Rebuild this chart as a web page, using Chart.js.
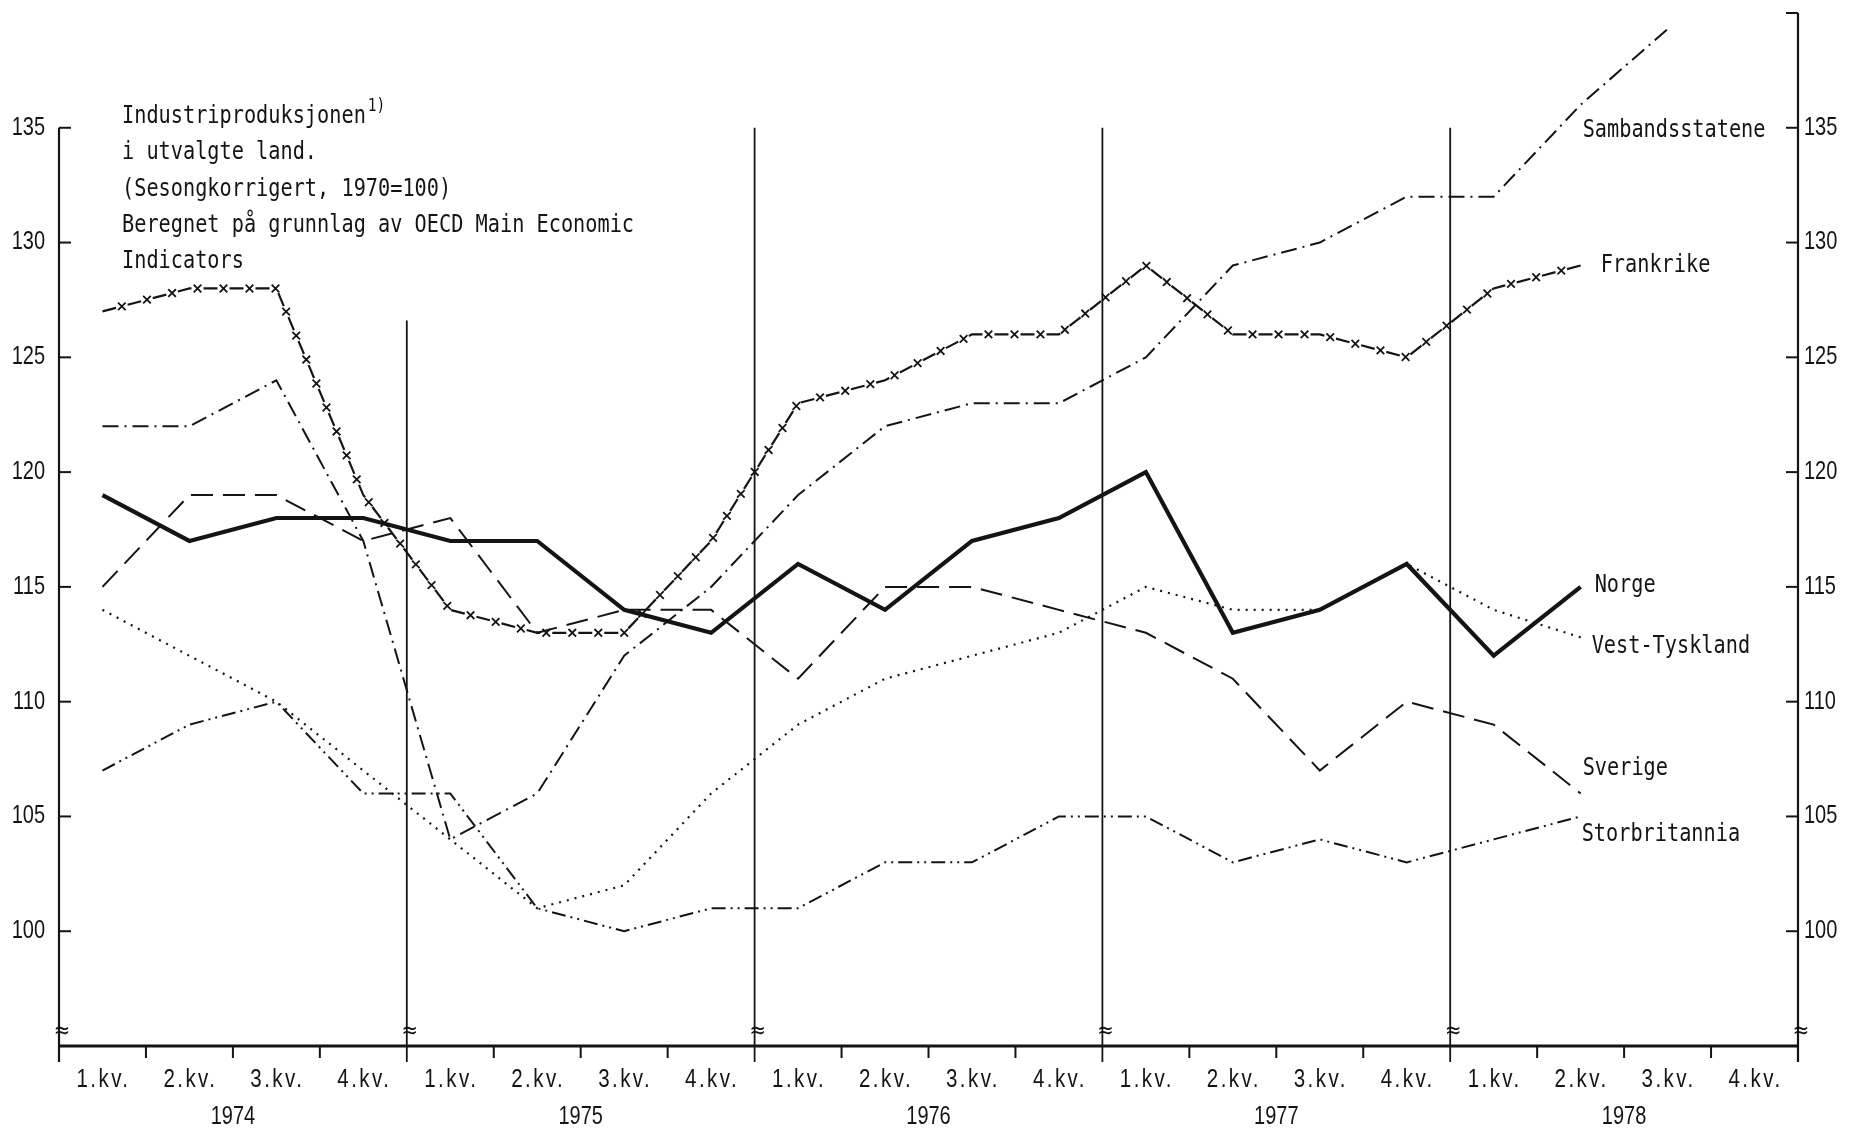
<!DOCTYPE html>
<html>
<head>
<meta charset="utf-8">
<script src="https://cdn.jsdelivr.net/npm/chart.js@4/dist/chart.umd.min.js"></script>
<style>
  html, body { margin: 0; padding: 0; background: #fff; }
  #wrap { width: 1851px; height: 1131px; }
</style>
</head>
<body>
<div id="wrap"><canvas id="chart" width="1851" height="1131"></canvas></div>
<script>
// kvartaler og år
const years = ['1974', '1975', '1976', '1977', '1978'];
const quarters = ['1.kv.', '2.kv.', '3.kv.', '4.kv.'];

// indeks, 1970=100
const norge          = [119, 117, 118, 118, 117, 117, 114, 113, 116, 114, 117, 118, 120, 113, 114, 116, 112, 115, null, null];
const sambandsstatene= [122, 122, 124, 117, 104, 106, 112, 115, 119, 122, 123, 123, 125, 129, 130, 132, 132, 136, 139.3, null];
const frankrike      = [127, 128, 128, 119, 114, 113, 113, 117, 123, 124, 126, 126, 129, 126, 126, 125, 128, 129, null, null];
const vestTyskland   = [114, 112, 110, 107, 104, 101, 102, 106, 109, 111, 112, 113, 115, 114, 114, 116, 114, 112.8, null, null];
const sverige        = [115, 119, 119, 117, 118, 113, 114, 114, 111, 115, 115, 114, 113, 111, 107, 110, 109, 106, null, null];
const storbritannia  = [107, 109, 110, 106, 106, 101, 100, 101, 101, 103, 103, 105, 105, 103, 104, 103, 104, 105, null, null];

const yTicksLeft  = [100, 105, 110, 115, 120, 125, 130, 135];
const yTicksRight = [100, 105, 110, 115, 120, 125, 130, 135, 140];

const titleLines = [
  'Industriproduksjonen',
  'i utvalgte land.',
  '(Sesongkorrigert, 1970=100)',
  'Beregnet på grunnlag av OECD Main Economic',
  'Indicators'
];

const categories = [];
years.forEach(y => quarters.forEach(q => categories.push(q + ' ' + y)));

const INK = '#141414';
const NUM_FONT = "'Liberation Sans', Arial, sans-serif";
const MONO_FONT = "'DejaVu Sans Mono', 'Liberation Mono', monospace";

// tegner tekst sammenpresset horisontalt, returnerer bredden
function squeezed(ctx, text, x, y, font, squeeze, align, spacing) {
  ctx.save();
  ctx.font = font;
  ctx.letterSpacing = (spacing || 0) + 'px';
  const w = ctx.measureText(text).width * squeeze;
  let x0 = x;
  if (align === 'right') x0 = x - w;
  else if (align === 'center') x0 = x - w / 2;
  ctx.textAlign = 'left';
  ctx.translate(x0, y);
  ctx.scale(squeeze, 1);
  ctx.fillText(text, 0, 0);
  ctx.restore();
  return w;
}

const decor = {
  id: 'decor',
  afterDatasetsDraw(chart) {
    const ctx = chart.ctx;
    const xs = chart.scales.x, ys = chart.scales.y;
    const area = chart.chartArea;
    const bottom = area.bottom, left = area.left, right = area.right;
    const n = categories.length;
    const boundary = i => i === 0 ? left : (i === n ? right : (xs.getPixelForValue(i - 1) + xs.getPixelForValue(i)) / 2);

    ctx.save();
    ctx.strokeStyle = INK;
    ctx.fillStyle = INK;
    ctx.lineCap = 'butt';

    // venstre og høyre akse
    ctx.lineWidth = 2.2;
    ctx.beginPath();
    ctx.moveTo(left, ys.getPixelForValue(135));
    ctx.lineTo(left, bottom + 16);
    ctx.moveTo(right, ys.getPixelForValue(140));
    ctx.lineTo(right, bottom + 16);
    ctx.stroke();

    // årsskillelinjer
    const yearTops = [126.6, 135, 135, 135];
    ctx.lineWidth = 1.8;
    yearTops.forEach((top, k) => {
      const bx = boundary((k + 1) * 4);
      ctx.beginPath();
      ctx.moveTo(bx, ys.getPixelForValue(top));
      ctx.lineTo(bx, bottom + 16);
      ctx.stroke();
    });

    // grunnlinje
    ctx.lineWidth = 2.8;
    ctx.beginPath();
    ctx.moveTo(left, bottom);
    ctx.lineTo(right, bottom);
    ctx.stroke();

    // kvartalsmerker
    ctx.lineWidth = 2;
    for (let i = 1; i < n; i++) {
      if (i % 4 === 0) continue;
      const bx = boundary(i);
      ctx.beginPath();
      ctx.moveTo(bx, bottom);
      ctx.lineTo(bx, bottom + 12);
      ctx.stroke();
    }

    // y-merker
    ctx.lineWidth = 2;
    yTicksLeft.forEach(v => {
      const py = ys.getPixelForValue(v);
      ctx.beginPath(); ctx.moveTo(left, py); ctx.lineTo(left + 12, py); ctx.stroke();
    });
    yTicksRight.forEach(v => {
      const py = ys.getPixelForValue(v);
      ctx.beginPath(); ctx.moveTo(right, py); ctx.lineTo(right - 12, py); ctx.stroke();
    });

    // bruddtegn
    ctx.font = '24px ' + MONO_FONT;
    ctx.textAlign = 'center';
    ctx.textBaseline = 'middle';
    for (let i = 0; i <= n; i += 4) {
      ctx.fillText('≈', boundary(i) + 3, bottom - 14);
    }

    // tall på y-aksene
    ctx.textBaseline = 'middle';
    const numFont = '25px ' + NUM_FONT;
    yTicksLeft.forEach(v => squeezed(ctx, String(v), left - 14, ys.getPixelForValue(v), numFont, 0.8, 'right'));
    yTicksRight.forEach(v => { if (v <= 135) squeezed(ctx, String(v), right + 6, ys.getPixelForValue(v), numFont, 0.8, 'left'); });

    // kvartal- og årstekster
    categories.forEach((c, i) => {
      squeezed(ctx, quarters[i % 4], xs.getPixelForValue(i) + 1, bottom + 34, numFont, 0.82, 'center', 3);
    });
    years.forEach((y, k) => {
      squeezed(ctx, y, (boundary(k * 4) + boundary(k * 4 + 4)) / 2, bottom + 71, numFont, 0.8, 'center');
    });

    // overskrift
    const tx = 122;
    const ty0 = ys.getPixelForValue(135.5);
    const lineGap = 36.4;
    const monoFont = '25px ' + MONO_FONT;
    titleLines.forEach((t, k) => {
      const w = squeezed(ctx, t, tx, ty0 + k * lineGap, monoFont, 0.81, 'left');
      if (k === 0) squeezed(ctx, '1)', tx + w + 2, ty0 - 10, '18px ' + MONO_FONT, 0.81, 'left');
    });

    // serienavn
    const lastIdx = 17;
    const seriesLabels = [
      ['Sambandsstatene', 134.9, 2],
      ['Frankrike', 129.0, 20],
      ['Norge', 115.05, 14],
      ['Vest-Tyskland', 112.4, 11],
      ['Sverige', 107.1, 2],
      ['Storbritannia', 104.2, 1]
    ];
    seriesLabels.forEach(([name, v, dx]) => {
      squeezed(ctx, name, xs.getPixelForValue(lastIdx) + dx, ys.getPixelForValue(v), monoFont, 0.81, 'left');
    });

    // kryss langs Frankrike-linjen
    const meta = chart.getDatasetMeta(2);
    const pts = meta.data.filter((p, i) => frankrike[i] !== null);
    const period = 26, start = 20, s = 3.8;
    let acc = 0, next = start;
    ctx.lineWidth = 1.8;
    for (let i = 1; i < pts.length; i++) {
      const ax = pts[i - 1].x, ay = pts[i - 1].y, bx = pts[i].x, by = pts[i].y;
      const len = Math.hypot(bx - ax, by - ay);
      while (next <= acc + len) {
        const t = (next - acc) / len;
        const cx = ax + (bx - ax) * t, cy = ay + (by - ay) * t;
        ctx.beginPath();
        ctx.moveTo(cx - s, cy - s); ctx.lineTo(cx + s, cy + s);
        ctx.moveTo(cx - s, cy + s); ctx.lineTo(cx + s, cy - s);
        ctx.stroke();
        next += period;
      }
      acc += len;
    }
    ctx.restore();
  }
};

function serie(label, data, width, dash) {
  return {
    label: label,
    data: data,
    borderColor: INK,
    borderWidth: width,
    borderDash: dash,
    pointRadius: 0,
    tension: 0,
    fill: false,
    spanGaps: false,
    clip: false
  };
}

new Chart(document.getElementById('chart').getContext('2d'), {
  type: 'line',
  data: {
    labels: categories,
    datasets: [
      serie('Norge', norge, 4.2, []),
      serie('Sambandsstatene', sambandsstatene, 2, [16, 6, 2, 6]),
      serie('Frankrike', frankrike, 2.2, [14, 12]),
      serie('Vest-Tyskland', vestTyskland, 2.2, [2, 6]),
      serie('Sverige', sverige, 2, [22, 10]),
      serie('Storbritannia', storbritannia, 2, [14, 5, 2, 5, 2, 5])
    ]
  },
  options: {
    responsive: false,
    devicePixelRatio: 1,
    animation: false,
    layout: { padding: { left: 59, right: 53, top: 13, bottom: 85 } },
    plugins: { legend: { display: false }, tooltip: { enabled: false } },
    scales: {
      x: { type: 'category', offset: true, display: false },
      y: { min: 95, max: 140, display: false }
    }
  },
  plugins: [decor]
});
</script>
</body>
</html>
